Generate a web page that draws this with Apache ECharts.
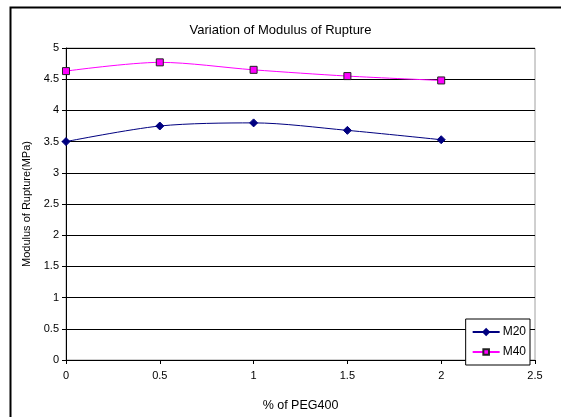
<!DOCTYPE html>
<html><head><meta charset="utf-8">
<script src="https://cdn.jsdelivr.net/npm/echarts@6/dist/echarts.min.js"></script>
<style>html,body{margin:0;padding:0;background:#fff}#c{width:561px;height:417px}</style>
</head><body><div id="c"></div>
<script>
var xValues = [0, 0.5, 1, 1.5, 2];
var m20 = [3.50, 3.75, 3.80, 3.68, 3.53];
var m40 = [4.63, 4.77, 4.65, 4.55, 4.48];
var seriesNames = ['M20', 'M40'];
var titleText = 'Variation of Modulus of Rupture';
var xName = '% of PEG400';
var yName = 'Modulus of Rupture(MPa)';

function pairs(xs, ys){ return xs.map(function(x,i){ return [x, ys[i]]; }); }

var font = 'Liberation Sans, Arial, sans-serif';
var chart = echarts.init(document.getElementById('c'), null, {renderer:'canvas'});
chart.setOption({
  animation: false,
  backgroundColor: '#fff',
  graphic: [{
    type: 'rect', left: 8, top: 5, z: 100,
    shape: {x: 0, y: 0, width: 600, height: 500},
    style: {fill: 'none', stroke: '#000', lineWidth: 2}
  }],
  title: {
    text: titleText, left: 'center', top: 19,
    textStyle: {fontFamily: font, fontSize: 13, fontWeight: 'normal', color: '#000'}
  },
  grid: {left: 66, right: 26, top: 48, bottom: 48, show: true, borderColor: '#a0a0a0', borderWidth: 1, backgroundColor: '#fff'},
  legend: {
    right: 31, top: 319, orient: 'vertical', itemGap: 8,
    padding: [7, 4, 7, 6],
    borderColor: '#000', borderWidth: 1, backgroundColor: '#fff',
    itemWidth: 27, itemHeight: 7,
    textStyle: {fontFamily: font, fontSize: 12, color: '#000', padding: [0,0,0,-2]},
    data: seriesNames
  },
  xAxis: {
    type: 'value', min: 0, max: 2.5, interval: 0.5,
    name: xName, nameLocation: 'middle', nameGap: 39,
    nameTextStyle: {fontFamily: font, fontSize: 12.5, color: '#000'},
    axisLine: {lineStyle: {color: '#000', width: 1}},
    axisTick: {show: true, length: 4, lineStyle: {color: '#000'}},
    axisLabel: {fontFamily: font, fontSize: 11, color: '#000', margin: 10},
    splitLine: {show: false}
  },
  yAxis: {
    type: 'value', min: 0, max: 5, interval: 0.5,
    name: yName, nameLocation: 'middle', nameGap: 26, nameRotate: 90,
    nameTextStyle: {fontFamily: font, fontSize: 11, color: '#000'},
    axisLine: {show: true, lineStyle: {color: '#000', width: 1}},
    axisTick: {show: true, length: 4, lineStyle: {color: '#000'}},
    axisLabel: {fontFamily: font, fontSize: 11, color: '#000', margin: 7},
    splitLine: {show: true, lineStyle: {color: '#000', width: 1}}
  },
  series: [{
    name: seriesNames[0], type: 'line', smooth: 0.3,
    data: pairs(xValues, m20),
    symbol: 'diamond', symbolSize: 8,
    lineStyle: {color: '#000080', width: 1},
    itemStyle: {color: '#000080', borderColor: '#000080', borderWidth: 1}
  }, {
    name: seriesNames[1], type: 'line', smooth: 0.3,
    data: pairs(xValues, m40),
    symbol: 'rect', symbolSize: 7,
    lineStyle: {color: '#ff00ff', width: 1},
    itemStyle: {color: '#ff00ff', borderColor: '#222', borderWidth: 1}
  }]
});
</script></body></html>
